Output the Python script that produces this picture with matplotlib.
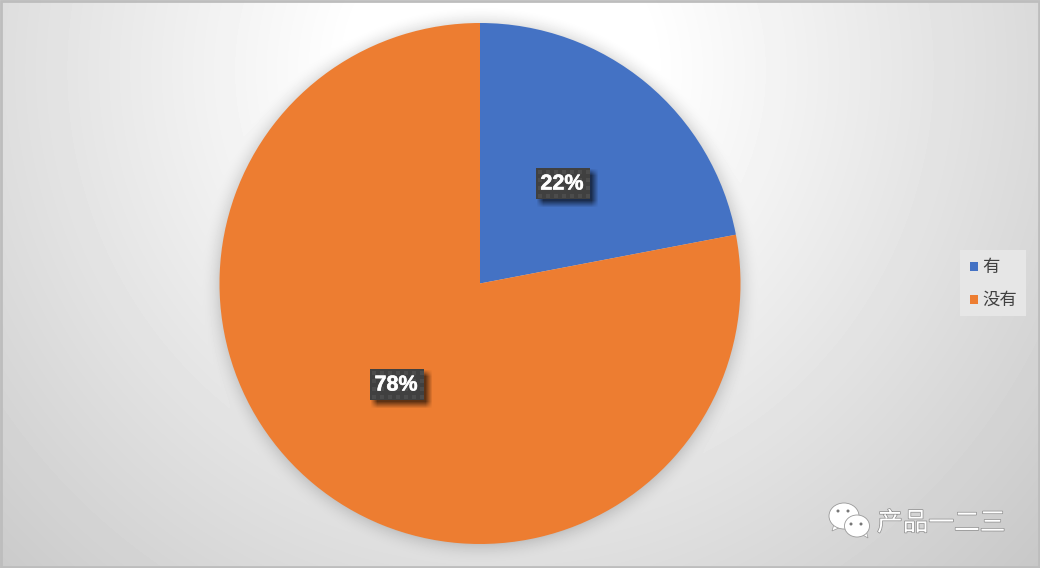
import numpy as np
import matplotlib
matplotlib.use("Agg")
import matplotlib.pyplot as plt
import matplotlib.patheffects as pe
from matplotlib.patches import Rectangle, Ellipse, Polygon

plt.rcParams['font.family'] = ['Noto Sans CJK SC', 'DejaVu Sans']

labels = ["有", "没有"]
values = [22, 78]
colors = ["#4472C4", "#ED7D31"]
pct_labels = ["22%", "78%"]
pct_pos = [(563, 183.5), (397, 384.5)]
watermark = "产品一二三"

W, H = 1040, 568
fig = plt.figure(figsize=(W / 100, H / 100), dpi=100)
ax = fig.add_axes([0, 0, 1, 1])
ax.set_xlim(0, W)
ax.set_ylim(H, 0)
ax.axis("off")

# background, radial grey fade from a white patch behind the pie
yy, xx = np.mgrid[0:H, 0:W]
d = np.hypot(xx - 500, yy - 70)
g = 1 - np.clip(d - 150, 0, None) * 0.095 / 255
# soft shadow round the pie goes into the same image
ring = np.clip(1 - (np.hypot(xx - 480, yy - 284) - 260) / 20, 0, 1)
g = g * (1 - 0.13 * ring ** 2)
ax.imshow(g, cmap="gray", vmin=0, vmax=1, extent=(0, W, H, 0), aspect="auto", zorder=0)
ax.add_patch(Rectangle((1, 1), W - 2, H - 2, fill=False, ec="#bdbdbd", lw=2, zorder=1))

# y axis is flipped so counterclock=True gives clockwise on screen
wedges, _ = ax.pie(values, colors=colors, startangle=-90, counterclock=True,
                   center=(480, 283.5), radius=260.5, frame=False,
                   wedgeprops={"linewidth": 0, "zorder": 3})

# data labels
for t, (x, y) in zip(pct_labels, pct_pos):
    w, h = 54, 31
    # blurred drop shadow, offset down and right
    sx = np.clip((w / 2 + 4 - np.abs(xx - x - 4)) / 7, 0, 1)
    sy = np.clip((h / 2 + 4 - np.abs(yy - y - 4)) / 7, 0, 1)
    shade = np.zeros((H, W, 4))
    shade[..., 3] = 0.6 * sx * sy
    ax.imshow(shade, extent=(0, W, H, 0), aspect="auto", zorder=4)
    ax.add_patch(Rectangle((x - w / 2, y - h / 2), w, h, fc="#404040", ec="none", zorder=5))
    # dotted texture of the label box
    dx = np.arange(x - w / 2 + 4, x + w / 2, 8)
    dy = np.arange(y - h / 2 + 4, y + h / 2, 8)
    mx, my = np.meshgrid(dx, dy)
    ax.scatter(mx.ravel(), my.ravel(), s=5, marker="s", c="#4c4c4c", linewidths=0, zorder=5)
    ax.text(x - 1, y + 0.5, t, color="white", fontsize=15.5, fontweight="bold", ha="center", va="center",
            family="Liberation Sans", zorder=6,
            path_effects=[pe.withStroke(linewidth=0.4, foreground="white")])

# legend
ax.add_patch(Rectangle((960, 250), 66, 66, fc="#e6e6e6", ec="none", zorder=3))
for lab, c, y in zip(labels, colors, [267, 300]):
    ax.add_patch(Rectangle((970, y - 5), 8, 9, fc=c, ec="none", zorder=4))
    ax.text(982, y, lab, fontsize=12.5, color="#404040", ha="left", va="center", zorder=4)

# watermark
shadow = [pe.withStroke(linewidth=1.0, foreground="#8a8a8a")]
ax.text(877, 523.5, watermark, fontsize=18.5, color="white", ha="left", va="center",
        zorder=4, path_effects=shadow)
for cx, cy, rx, ry, tail in [(844, 516, 15, 13, [(834, 524), (832, 531), (841, 527)]),
                             (857, 526, 12.5, 11, [(861, 534), (868, 538), (866, 530)])]:
    ax.add_patch(Polygon(tail, fc="white", ec="#999999", lw=0.5, zorder=5))
    ax.add_patch(Ellipse((cx, cy), 2 * rx, 2 * ry, fc="white", ec="#999999", lw=0.6, zorder=5))
for cx, cy in [(838, 511), (848, 511), (851, 524), (861, 524)]:
    ax.add_patch(Ellipse((cx, cy), 3, 3, fc="#777777", ec="none", zorder=6))

ax.set_xlim(0, W)
ax.set_ylim(H, 0)
ax.set_aspect("auto")
fig.savefig("out.png", dpi=100)
